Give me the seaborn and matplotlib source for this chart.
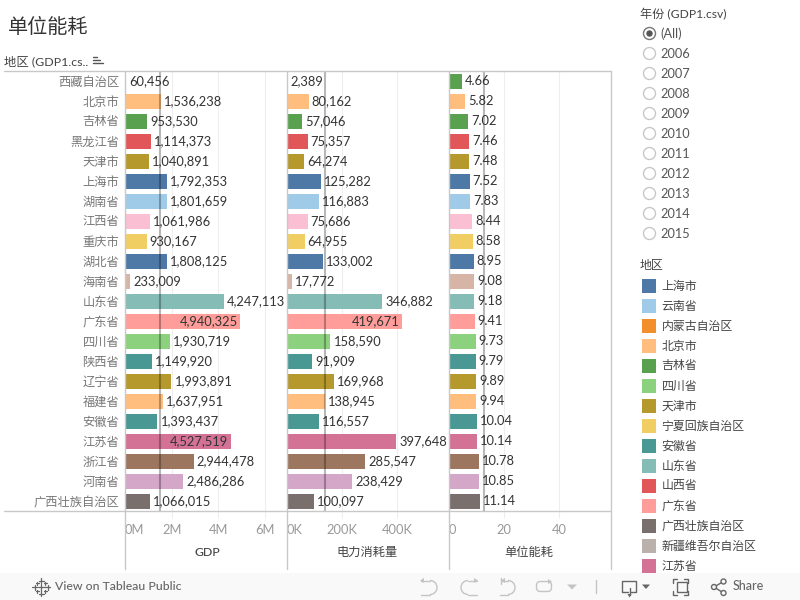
import matplotlib
matplotlib.use("Agg")
import matplotlib.pyplot as plt
from matplotlib.patches import Rectangle, Circle, Arc, Polygon, FancyBboxPatch
from matplotlib.transforms import ScaledTranslation
import seaborn as sns
import pandas as pd

regions = ['西藏自治区', '北京市', '吉林省', '黑龙江省', '天津市', '上海市', '湖南省', '江西省',
           '重庆市', '湖北省', '海南省', '山东省', '广东省', '四川省', '陕西省', '辽宁省',
           '福建省', '安徽省', '江苏省', '浙江省', '河南省', '广西壮族自治区']
gdp = [60456, 1536238, 953530, 1114373, 1040891, 1792353, 1801659, 1061986,
       930167, 1808125, 233009, 4247113, 4940325, 1930719, 1149920, 1993891,
       1637951, 1393437, 4527519, 2944478, 2486286, 1066015]
power = [2389, 80162, 57046, 75357, 64274, 125282, 116883, 75686,
         64955, 133002, 17772, 346882, 419671, 158590, 91909, 169968,
         138945, 116557, 397648, 285547, 238429, 100097]
unit = [4.66, 5.82, 7.02, 7.46, 7.48, 7.52, 7.83, 8.44,
        8.58, 8.95, 9.08, 9.18, 9.41, 9.73, 9.79, 9.89,
        9.94, 10.04, 10.14, 10.78, 10.85, 11.14]
bar_colors = ['#59A14F', '#FFBE7D', '#59A14F', '#E15759', '#B6992D', '#4E79A7', '#A0CBE8', '#FABFD2',
              '#F1CE63', '#4E79A7', '#D7B5A6', '#86BCB6', '#FF9D9A', '#8CD17D', '#499894', '#B6992D',
              '#FFBE7D', '#499894', '#D37295', '#9D7660', '#D4A6C8', '#79706E']

years = ['(All)', '2006', '2007', '2008', '2009', '2010', '2011', '2012', '2013', '2014', '2015']
legend_names = ['上海市', '云南省', '内蒙古自治区', '北京市', '吉林省', '四川省', '天津市', '宁夏回族自治区',
                '安徽省', '山东省', '山西省', '广东省', '广西壮族自治区', '新疆维吾尔自治区', '江苏省']
legend_colors = ['#4E79A7', '#A0CBE8', '#F28E2B', '#FFBE7D', '#59A14F', '#8CD17D', '#B6992D', '#F1CE63',
                 '#499894', '#86BCB6', '#E15759', '#FF9D9A', '#79706E', '#BAB0AC', '#D37295']

# column, x limit, ticks, tick labels, reference line, number format
panels = [
    ('GDP', 6920000, [0, 2000000, 4000000, 6000000], ['0M', '2M', '4M', '6M'], 1500000, '{:,.0f}'),
    ('电力消耗量', 589000, [0, 200000, 400000], ['0K', '200K', '400K'], 138000, '{:,.0f}'),
    ('单位能耗', 58.6, [0, 20, 40], ['0', '20', '40'], 12.6, '{:.2f}'),
]
inside_labels = {'GDP': ['广东省', '江苏省'], '电力消耗量': ['广东省'], '单位能耗': []}

sns.set_style("white")
plt.rcParams['font.family'] = ['Lato', 'Noto Sans CJK SC', 'DejaVu Sans']

data = pd.DataFrame({'地区': regions, 'GDP': gdp, '电力消耗量': power, '单位能耗': unit, 'color': bar_colors})
palette = dict(zip(regions, bar_colors))

W, H = 800, 600
fig = plt.figure(figsize=(8, 6), dpi=100)
panel_left = [124.8, 286.8, 448.8]
panel_w = 162
top, bottom = 71, 511

for i, (col, xmax, ticks, ticklabels, ref, fmt) in enumerate(panels):
    ax = fig.add_axes([panel_left[i] / W, (H - bottom) / H, panel_w / W, (bottom - top) / H])
    sns.barplot(data=data, y='地区', x=col, hue='地区', palette=palette, order=regions, dodge=False,
                legend=False, width=0.75, saturation=1, linewidth=0, ax=ax, zorder=2)
    ax.set_xlim(0, xmax)
    ax.set_xlabel('')
    ax.set_ylabel('')
    ax.set_xticks(ticks)
    ax.set_xticklabels(ticklabels, fontsize=9.3, color='#999999')
    first = ax.get_xticklabels()[0]
    first.set_ha('left')
    first.set_transform(first.get_transform() + ScaledTranslation(2 / 100, 0, fig.dpi_scale_trans))
    ax.tick_params(axis='x', length=5, width=0.8, color='#eeeeee', pad=4, bottom=True)
    ax.grid(axis='x', color='#eeeeee', linewidth=0.8, zorder=0)
    ax.set_axisbelow(True)
    sns.despine(ax=ax, left=True, bottom=True)
    if i == 0:
        ax.tick_params(axis='y', length=0, pad=4)
        ax.set_yticks(range(len(regions)))
        ax.set_yticklabels(regions, fontsize=8.8, color='#777777')
    else:
        ax.tick_params(axis='y', left=False, labelleft=False)

    px = xmax / panel_w  # data units per pixel
    for j, name in enumerate(regions):
        v = data[col].iloc[j]
        if name in inside_labels[col]:
            ax.text(v - 3 * px, j, fmt.format(v), ha='right', va='center', fontsize=9.3, color='#333333', zorder=5)
        else:
            ax.text(v + 3 * px, j, fmt.format(v), ha='left', va='center', fontsize=9.3, color='#333333', zorder=5)
    ax.axvline(ref, color='black', alpha=0.28, linewidth=1.5, zorder=4)
    fig.text((panel_left[i] + panel_w / 2 - 1 + (3 if i == 0 else 0)) / W, 1 - 552 / H, col, ha='center', va='center',
             fontsize=8.8, color='#444444', fontweight='medium')

# everything around the chart, in pixel coordinates
ui = fig.add_axes([0, 0, 1, 1], facecolor='none', zorder=10)
ui.set_xlim(0, W)
ui.set_ylim(H, 0)
ui.axis('off')

line_c = '#c8c8c8'
ui.plot([4, 611], [70.5, 70.5], color=line_c, lw=1)
ui.plot([4, 611], [511, 511], color=line_c, lw=1)
for x in [125, 287, 449, 611]:
    ui.plot([x - 0.5, x - 0.5], [70.5, 569], color=line_c, lw=1)

ui.text(8, 26, '单位能耗', fontsize=14.5, color='#333333', va='center', ha='left')
ui.text(4, 61.5, '地区 (GDP1.cs..', fontsize=8.9, color='#444444', va='center', ha='left')
for k, x_end in enumerate([97, 100, 103]):
    ui.plot([93, x_end], [56.5 + k * 3, 56.5 + k * 3], color='#555555', lw=1)

# year filter
ui.text(639.5, 14, '年份 (GDP1.csv)', fontsize=8.7, color='#444444', va='center', ha='left')
for k, y in enumerate(years):
    cy = 33.5 + k * 20
    ui.add_patch(Circle((649.5, cy), 6, fill=False, ec='#777777' if k == 0 else '#c8c8c8', lw=1))
    if k == 0:
        ui.add_patch(Circle((649.5, cy), 2.5, color='#555555'))
    ui.text(660.5, cy, y, fontsize=9.2, color='#555555', va='center', ha='left')

# colour legend
ui.text(639.5, 266, '地区', fontsize=8.6, color='#444444', va='center', ha='left')
for k, (name, c) in enumerate(zip(legend_names, legend_colors)):
    cy = 286 + k * 20
    ui.add_patch(Rectangle((642, cy - 7), 14, 14, color=c, lw=0))
    ui.text(661.5, cy, name, fontsize=8.6, color='#444444', va='center', ha='left')

# toolbar
ui.add_patch(Rectangle((0, 573), W, 27, color='#f9f9f9', lw=0, zorder=20))
icon = dict(zorder=21)
ui.text(55, 587, 'View on Tableau Public', fontsize=8.8, color='#666666', va='center', ha='left',
        fontweight='medium', **icon)
# tableau mark
for dx, dy, s in [(0, 0, 3.5), (0, -6.5, 2.5), (0, 6.5, 2.5), (-6.5, 0, 2.5), (6.5, 0, 2.5),
                  (-4, -4, 1.5), (4, -4, 1.5), (-4, 4, 1.5), (4, 4, 1.5)]:
    ui.plot([41 + dx - s, 41 + dx + s], [587 + dy, 587 + dy], color='#666666', lw=0.9, **icon)
    ui.plot([41 + dx, 41 + dx], [587 + dy - s, 587 + dy + s], color='#666666', lw=0.9, **icon)

grey = '#c4c4c4'
# undo
ui.add_patch(Arc((430, 587.5), 14, 14, theta1=-90, theta2=90, color=grey, lw=1, **icon))
ui.plot([421, 430], [580.5, 580.5], color=grey, lw=1, **icon)
ui.plot([421, 430], [594.5, 594.5], color=grey, lw=1, **icon)
ui.add_patch(Polygon([[420, 580.5], [424, 578], [424, 583]], color=grey, lw=0, **icon))
# redo
ui.add_patch(Arc((468, 587.5), 14, 14, theta1=90, theta2=270, color=grey, lw=1, **icon))
ui.plot([468, 477], [580.5, 580.5], color=grey, lw=1, **icon)
ui.plot([468, 477], [594.5, 594.5], color=grey, lw=1, **icon)
ui.add_patch(Polygon([[478, 580.5], [474, 578], [474, 583]], color=grey, lw=0, **icon))
# revert
ui.add_patch(Arc((508, 587.5), 14, 14, theta1=-90, theta2=90, color=grey, lw=1, **icon))
ui.plot([502, 508], [580.5, 580.5], color=grey, lw=1, **icon)
ui.plot([500, 508], [594.5, 594.5], color=grey, lw=1, **icon)
ui.plot([500.5, 500.5], [578, 584], color=grey, lw=1, **icon)
ui.add_patch(Polygon([[501, 580.5], [505, 578], [505, 583]], color=grey, lw=0, **icon))
# refresh
ui.add_patch(FancyBboxPatch((538, 583), 12, 7, boxstyle='round,pad=1.5,rounding_size=4', fill=False, ec=grey, lw=1, **icon))
ui.add_patch(Polygon([[552, 581.5], [548, 579], [548, 584]], color=grey, lw=0, **icon))
ui.add_patch(Polygon([[567, 584.5], [577, 584.5], [572, 589.5]], color=grey, lw=0, **icon))
ui.plot([595.5, 595.5], [580, 593], color=grey, lw=1, **icon)
# download
dk = '#666666'
ui.plot([628, 622, 622, 636, 636, 631], [592, 592, 581, 581, 592, 592], color=dk, lw=1, **icon)
ui.plot([629.5, 629.5], [588, 595], color=dk, lw=1, **icon)
ui.add_patch(Polygon([[627.5, 594], [631.5, 594], [629.5, 597.5]], color=dk, lw=0, **icon))
ui.add_patch(Polygon([[642, 584.5], [650, 584.5], [646, 589]], color=dk, lw=0, **icon))
# full screen
ui.add_patch(Rectangle((677, 582), 10, 10, fill=False, ec=dk, lw=1, **icon))
for xa, sx in [(673, 1), (688, -1)]:
    for ya, sy in [(579, 1), (595, -1)]:
        ui.plot([xa + 4 * sx, xa, xa], [ya, ya, ya + 4 * sy], color=dk, lw=1, **icon)
# share
ui.plot([723.5, 714, 723.5], [581.5, 587, 593], color=dk, lw=1, **icon)
for cx, cy in [(714, 587), (723.5, 581.5), (723.5, 593)]:
    ui.add_patch(Circle((cx, cy), 2.5, fc='#f9f9f9', ec=dk, lw=1, **icon))
ui.text(732.5, 586.5, 'Share', fontsize=9, color='#666666', va='center', ha='left', fontweight='medium', **icon)

fig.savefig('out.png', dpi=100)
